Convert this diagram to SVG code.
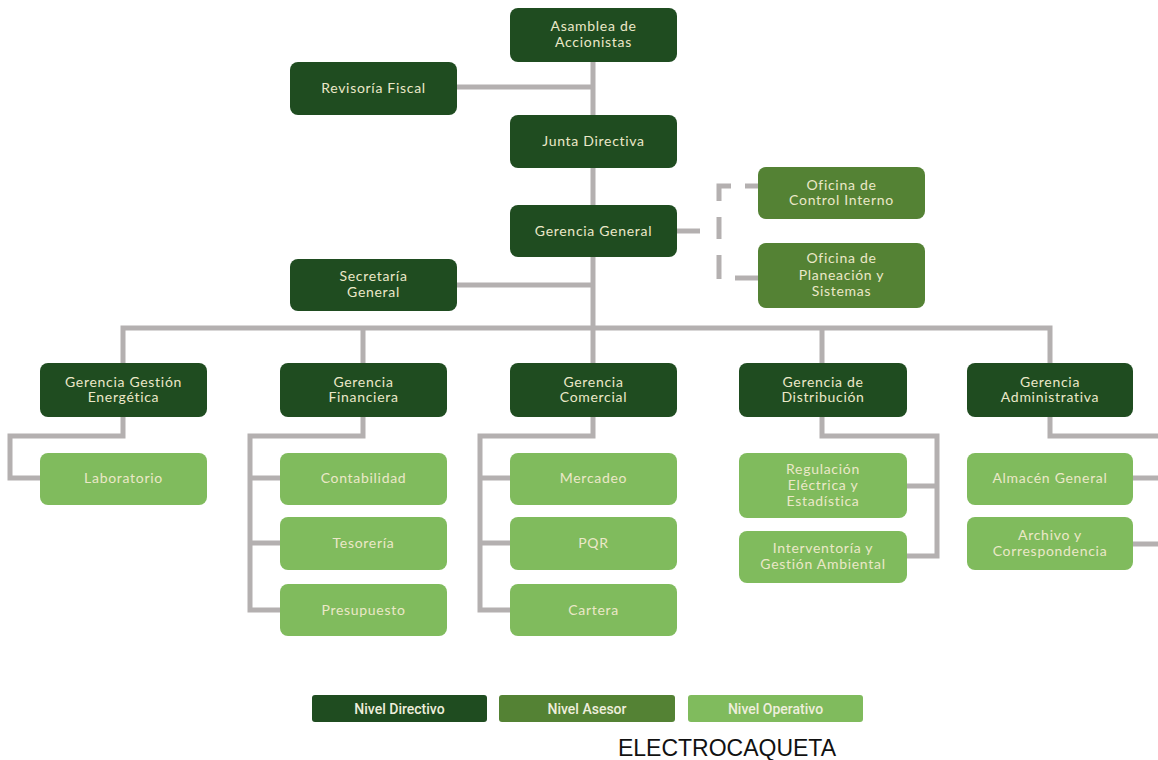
<svg xmlns="http://www.w3.org/2000/svg" width="1158" height="760" viewBox="0 0 1158 760">
<style>
.d{fill:#1f4c20}
.a{fill:#548234}
.o{fill:#80bb5d}
.t{font-family:"Lato","Noto Sans",sans-serif;font-size:14px;fill:#ebe8c8;text-anchor:middle;letter-spacing:0.7px}
.c{fill:none;stroke:#b4b0b0;stroke-width:5}
.dash{fill:none;stroke:#b4b0b0;stroke-width:5}
.l{font-family:"Roboto","Liberation Sans",sans-serif;font-size:14px;font-weight:500;fill:#eeeedc;text-anchor:middle}
</style>
<rect width="1158" height="760" fill="#ffffff"/>
<g id="connectors">
<path class="c" d="M593 61 V205"/>
<path class="c" d="M457 87 H593"/>
<path class="c" d="M593 257 V363"/>
<path class="c" d="M457 285 H593"/>
<path class="c" d="M123 363 V328 H1050 V363"/>
<path class="c" d="M363 328 V363 M822 328 V363"/>
<path class="dash" d="M677 231 H700"/>
<path class="dash" d="M731 186 H719 V201"/>
<path class="dash" d="M745 186 H758"/>
<path class="dash" d="M719 217 V239"/>
<path class="dash" d="M719 255 V279"/>
<path class="dash" d="M735 278 H758"/>
<path class="c" d="M123 417 V436 H10 V478 H40"/>
<path class="c" d="M363 417 V436 H250 V610 H280 M250 478 H280 M250 543 H280"/>
<path class="c" d="M593 417 V436 H480 V610 H510 M480 478 H510 M480 543 H510"/>
<path class="c" d="M822 417 V436 H937 V556 H907 M937 486 H907"/>
<path class="c" d="M1050 417 V436 H1160 M1133 478 H1160 M1133 544 H1160"/>
</g>
<g id="asamblea"><rect class="d" x="510" y="8" width="167" height="54" rx="8"/><text class="t" x="593.5" y="31">Asamblea de</text><text class="t" x="593.5" y="47">Accionistas</text></g>
<g id="revisoria"><rect class="d" x="290" y="62" width="167" height="53" rx="8"/><text class="t" x="373.5" y="93">Revisoría Fiscal</text></g>
<g id="junta"><rect class="d" x="510" y="115" width="167" height="53" rx="8"/><text class="t" x="593.5" y="146">Junta Directiva</text></g>
<g id="gerencia-general"><rect class="d" x="510" y="205" width="167" height="52" rx="8"/><text class="t" x="593.5" y="236">Gerencia General</text></g>
<g id="control-interno"><rect class="a" x="758" y="167" width="167" height="52" rx="8"/><text class="t" x="841.5" y="190">Oficina de</text><text class="t" x="841.5" y="205">Control Interno</text></g>
<g id="planeacion"><rect class="a" x="758" y="243" width="167" height="65" rx="8"/><text class="t" x="841.5" y="263">Oficina de</text><text class="t" x="841.5" y="280">Planeación y</text><text class="t" x="841.5" y="296">Sistemas</text></g>
<g id="secretaria"><rect class="d" x="290" y="259" width="167" height="52" rx="8"/><text class="t" x="373.5" y="281">Secretaría</text><text class="t" x="373.5" y="297">General</text></g>
<g id="g-energetica"><rect class="d" x="40" y="363" width="167" height="54" rx="8"/><text class="t" x="123.5" y="387">Gerencia Gestión</text><text class="t" x="123.5" y="402">Energética</text></g>
<g id="g-financiera"><rect class="d" x="280" y="363" width="167" height="54" rx="8"/><text class="t" x="363.5" y="387">Gerencia</text><text class="t" x="363.5" y="402">Financiera</text></g>
<g id="g-comercial"><rect class="d" x="510" y="363" width="167" height="54" rx="8"/><text class="t" x="593.5" y="387">Gerencia</text><text class="t" x="593.5" y="402">Comercial</text></g>
<g id="g-distribucion"><rect class="d" x="739" y="363" width="168" height="54" rx="8"/><text class="t" x="823" y="387">Gerencia de</text><text class="t" x="823" y="402">Distribución</text></g>
<g id="g-administrativa"><rect class="d" x="967" y="363" width="166" height="54" rx="8"/><text class="t" x="1050" y="387">Gerencia</text><text class="t" x="1050" y="402">Administrativa</text></g>
<g id="laboratorio"><rect class="o" x="40" y="453" width="167" height="52" rx="8"/><text class="t" x="123.5" y="483">Laboratorio</text></g>
<g id="contabilidad"><rect class="o" x="280" y="453" width="167" height="52" rx="8"/><text class="t" x="363.5" y="483">Contabilidad</text></g>
<g id="tesoreria"><rect class="o" x="280" y="517" width="167" height="53" rx="8"/><text class="t" x="363.5" y="548">Tesorería</text></g>
<g id="presupuesto"><rect class="o" x="280" y="584" width="167" height="52" rx="8"/><text class="t" x="363.5" y="615">Presupuesto</text></g>
<g id="mercadeo"><rect class="o" x="510" y="453" width="167" height="52" rx="8"/><text class="t" x="593.5" y="483">Mercadeo</text></g>
<g id="pqr"><rect class="o" x="510" y="517" width="167" height="53" rx="8"/><text class="t" x="593.5" y="548">PQR</text></g>
<g id="cartera"><rect class="o" x="510" y="584" width="167" height="52" rx="8"/><text class="t" x="593.5" y="615">Cartera</text></g>
<g id="regulacion"><rect class="o" x="739" y="453" width="168" height="65" rx="8"/><text class="t" x="823" y="474">Regulación</text><text class="t" x="823" y="490">Eléctrica y</text><text class="t" x="823" y="506">Estadística</text></g>
<g id="interventoria"><rect class="o" x="739" y="531" width="168" height="52" rx="8"/><text class="t" x="823" y="553">Interventoría y</text><text class="t" x="823" y="569">Gestión Ambiental</text></g>
<g id="almacen"><rect class="o" x="967" y="453" width="166" height="52" rx="8"/><text class="t" x="1050" y="483">Almacén General</text></g>
<g id="archivo"><rect class="o" x="967" y="517" width="166" height="53" rx="8"/><text class="t" x="1050" y="540">Archivo y</text><text class="t" x="1050" y="556">Correspondencia</text></g>
<g id="legend">
<rect class="d" x="312" y="695" width="175" height="27" rx="3"/><text class="l" x="399.5" y="713.5">Nivel Directivo</text>
<rect class="a" x="499" y="695" width="176" height="27" rx="3"/><text class="l" x="587" y="713.5">Nivel Asesor</text>
<rect class="o" x="688" y="695" width="175" height="27" rx="3"/><text class="l" x="775.5" y="713.5">Nivel Operativo</text>
</g>
<text x="727" y="756" font-family="Liberation Sans, Arial, sans-serif" font-size="23" fill="#111111" text-anchor="middle">ELECTROCAQUETA</text>
</svg>
